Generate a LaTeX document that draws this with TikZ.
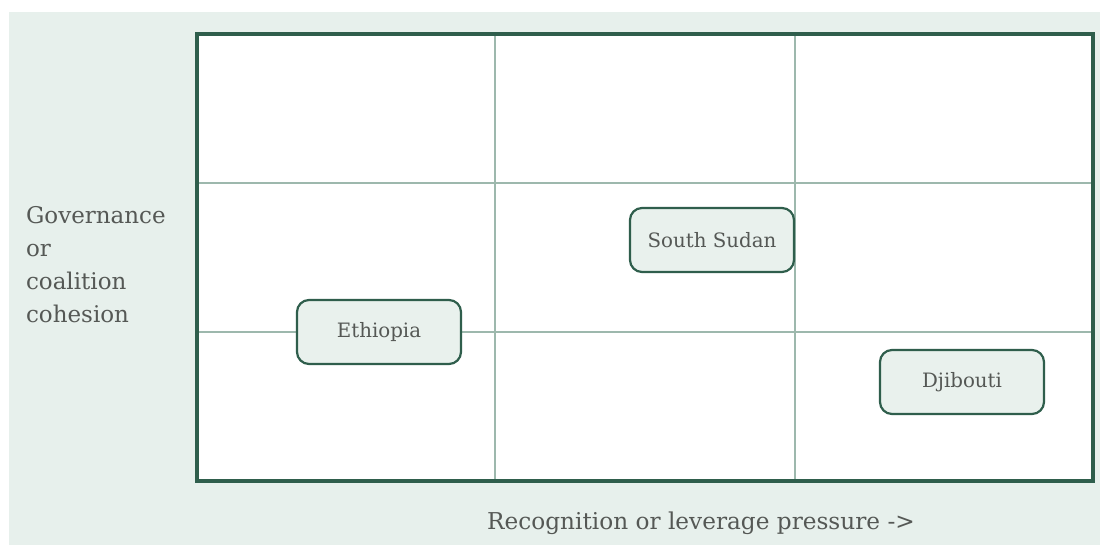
\documentclass[tikz,border=0pt]{standalone}
\usepackage{fontspec}
\setmainfont{DejaVu Serif}
\usetikzlibrary{positioning}
\definecolor{bgpale}{HTML}{E7F0EC}
\definecolor{frame}{HTML}{2F5E4C}
\definecolor{gridc}{HTML}{9DB8AD}
\definecolor{boxfill}{HTML}{E9F1ED}
\definecolor{txt}{HTML}{555855}

\begin{document}
\begin{tikzpicture}[x=0.5pt, y=-0.5pt, every node/.style={font=\fontsize{9.9}{12}\selectfont, text=txt}, country/.style={draw=frame, line width=1.1pt, rounded corners=6pt, fill=boxfill, minimum width=82pt, minimum height=32pt, inner sep=0pt}]
	\useasboundingbox (0,0) rectangle (1100,545);
	\fill[bgpale] (9,12) rectangle (1100,545);
	\fill[white] (197,34) rectangle (1093,481);
	\foreach \x in {495,795} {\draw[gridc, line width=1pt] (\x,34) -- (\x,481);}
	\foreach \y in {183,332} {\draw[gridc, line width=1pt] (197,\y) -- (1093,\y);}
	\draw[frame, line width=1.6pt] (197,34) rectangle (1093,481);
	\node[country] (ethiopia) at (379,332) {Ethiopia};
	\node[country] (ssudan) at (712,240) {South Sudan};
	\node[country] (djibouti) at (962,382) {Djibouti};
	\node[anchor=north west, align=left, font=\fontsize{11.5}{16.5}\selectfont] (yaxis) at (19,199) {Governance\\or\\coalition\\cohesion};
	\node[font=\fontsize{11.6}{14}\selectfont] (xaxis) at (701,523) {Recognition or leverage pressure ->};
\end{tikzpicture}
\end{document}
